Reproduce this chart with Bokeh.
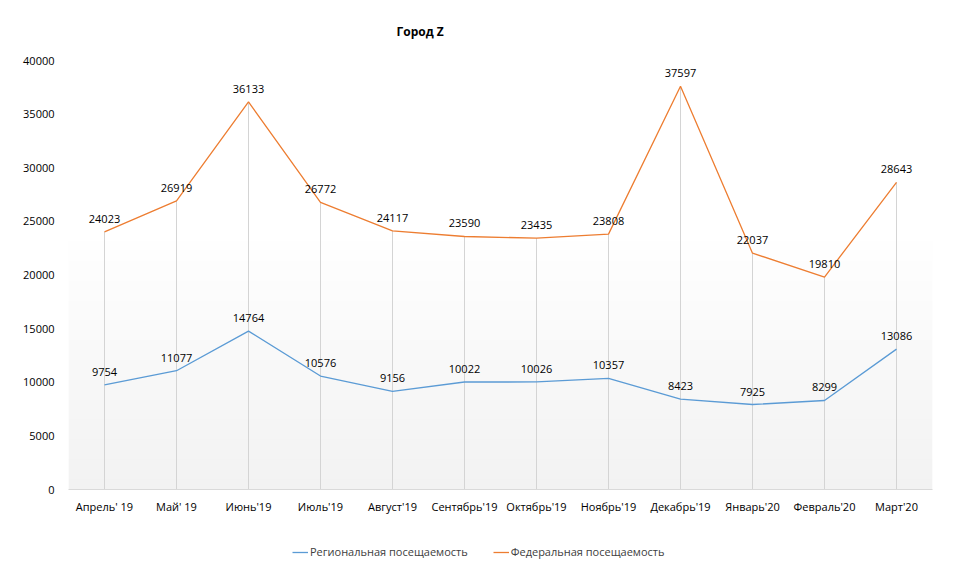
import numpy as np
from bokeh.plotting import figure
from bokeh.layouts import column
from bokeh.models import Legend, LegendItem, ColumnDataSource, Range1d, FactorRange, Title
from bokeh.core.properties import value
from bokeh.embed import file_html
from bokeh.resources import INLINE

title_text = "Город Z"
months = ["Апрель' 19", "Май' 19", "Июнь'19", "Июль'19", "Август'19", "Сентябрь'19",
          "Октябрь'19", "Ноябрь'19", "Декабрь'19", "Январь'20", "Февраль'20", "Март'20"]
regional = [9754, 11077, 14764, 10576, 9156, 10022, 10026, 10357, 8423, 7925, 8299, 13086]
federal = [24023, 26919, 36133, 26772, 24117, 23590, 23435, 23808, 37597, 22037, 19810, 28643]
y_ticks = [0, 5000, 10000, 15000, 20000, 25000, 30000, 35000, 40000]
series_names = ["Региональная посещаемость", "Федеральная посещаемость"]

FONT = "Open Sans"
BLUE = "#5B9BD5"
ORANGE = "#ED7D31"

p = figure(x_range=FactorRange(*months, range_padding=0), y_range=Range1d(y_ticks[0], y_ticks[-1]),
           width=955, height=530, output_backend="svg", toolbar_location=None,
           min_border_left=68, min_border_right=23, min_border_top=59, min_border_bottom=41)
p.outline_line_color = None
p.xgrid.grid_line_color = None
p.ygrid.grid_line_color = None
p.background_fill_color = "white"
p.border_fill_color = "white"

# vertical gradient background of the plot area
n = 256
grad = np.zeros((n, 1), dtype=np.uint32)
view = grad.view(dtype=np.uint8).reshape((n, 1, 4))
for i in range(n):
    t = i / (n - 1)  # 0 bottom -> 1 top
    g = int(round(242 + (255 - 242) * min(1.0, t / 0.6)))
    view[i, 0, :] = [g, g, g, 255]
p.image_rgba(image=[grad], x=0, y=y_ticks[0], dw=len(months), dh=y_ticks[-1] - y_ticks[0])

# drop lines
p.segment(x0=months, y0=[0] * len(months), x1=months, y1=federal, line_color="#d4d4d4", line_width=1)

p.line(months, regional, line_color=BLUE, line_width=1.3)
p.line(months, federal, line_color=ORANGE, line_width=1.3)

for vals in (regional, federal):
    src = ColumnDataSource(dict(x=months, y=vals, t=[str(v) for v in vals]))
    p.text(x="x", y="y", text="t", source=src, text_align="center", text_baseline="middle",
           y_offset=-13, text_font=value(FONT), text_font_size="11px", text_color="#000000")

p.yaxis.ticker = y_ticks
p.yaxis.axis_line_color = None
p.yaxis.major_tick_line_color = None
p.yaxis.minor_tick_line_color = None
p.yaxis.major_tick_out = 0
p.yaxis.major_label_standoff = 14
p.yaxis.major_label_text_font = FONT
p.yaxis.major_label_text_font_size = "11px"
p.yaxis.major_label_text_color = "#000000"

p.xaxis.axis_line_color = "#d9d9d9"
p.xaxis.major_tick_line_color = None
p.xaxis.minor_tick_line_color = None
p.xaxis.major_tick_out = 0
p.xaxis.major_label_standoff = 9
p.xaxis.major_label_text_font = FONT
p.xaxis.major_label_text_font_size = "11px"
p.xaxis.major_label_text_color = "#000000"

p.add_layout(Title(text=title_text, align="left", offset=328, standoff=41,
                   text_font=FONT, text_font_size="12px", text_font_style="bold",
                   text_color="#000000"), "above")

# legend strip below the chart (same series, drawn out of view so only the legend shows)
pl = figure(x_range=FactorRange(*months, range_padding=0), y_range=Range1d(-2, -1),
            width=955, height=44, output_backend="svg", toolbar_location=None,
            x_axis_location=None, y_axis_location=None,
            min_border_left=0, min_border_right=0, min_border_top=0, min_border_bottom=0)
pl.outline_line_color = None
pl.xgrid.grid_line_color = None
pl.ygrid.grid_line_color = None
l1 = pl.line(months, regional, line_color=BLUE, line_width=1.3)
l2 = pl.line(months, federal, line_color=ORANGE, line_width=1.3)

legend = Legend(items=[LegendItem(label=series_names[0], renderers=[l1]),
                       LegendItem(label=series_names[1], renderers=[l2])],
                orientation="horizontal", location=(224, 15), padding=0, margin=0,
                spacing=25, glyph_width=16, glyph_height=14, label_height=14,
                label_standoff=2, border_line_color=None,
                background_fill_alpha=0, label_text_font=FONT, label_text_font_size="11px",
                label_text_color="#404040")
pl.add_layout(legend, "center")

layout = column(p, pl, spacing=0)
open("out.html", "w").write(file_html(layout, INLINE))
